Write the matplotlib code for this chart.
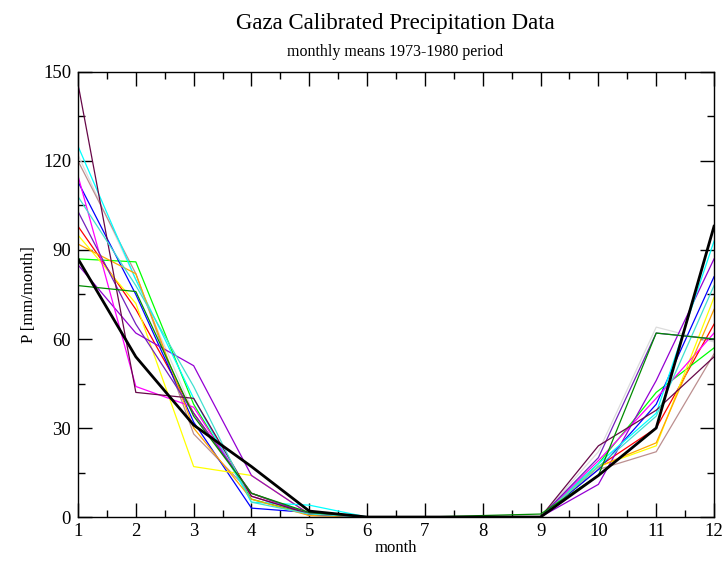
import matplotlib
matplotlib.use("Agg")
import matplotlib.pyplot as plt
from matplotlib.ticker import MultipleLocator

plt.rcParams["font.family"] = ["Liberation Serif", "DejaVu Serif"]

months = list(range(1, 13))

# monthly means per station (mm/month)
p_black = [87, 54, 31, 17, 2, 0, 0, 0, 0, 14, 30, 98]
p_red = [98, 70, 35, 8, 1, 0, 0, 0, 0, 17, 30, 65]
p_green = [87, 86, 38, 6, 1, 0, 0, 0, 0, 18, 42, 57]
p_blue = [113, 75, 32, 3, 1.5, 0, 0, 0, 0, 16, 38, 81]
p_yellow = [95, 72, 17, 14, 1, 0, 0, 0, 0, 17, 24, 74]
p_brown = [120, 82, 28, 8, 0.5, 0, 0, 0, 0, 16, 22, 55]
p_grey = [122, 80, 35, 7, 1, 0, 0, 0, 0, 22, 64, 59]
p_violet = [85, 62, 51, 14, 1, 0, 0, 0, 0, 11, 46, 87]
p_cyan = [125, 80, 40, 5, 4, 0, 0, 0, 0, 18, 35, 93]
p_magenta = [115, 44, 37, 7, 1, 0, 0, 0, 0, 19, 40, 62]
p_orange = [92, 82, 30, 6, 0.5, 0, 0, 0, 0, 17, 25, 70]
p_indigo = [103, 65, 35, 8, 1, 0, 0, 0, 0, 20, 62, 60]
p_maroon = [146, 42, 40, 7, 1, 0, 0, 0, 0, 24, 36, 54]
p_turquoise = [108, 78, 44, 5, 1, 0, 0, 0, 0, 17, 34, 78]
p_green4 = [78, 76, 34, 8, 1.5, 0, 0, 0.5, 1, 14, 62, 60]

# grace default palette
series = [
    (p_grey, "#dcdcdc"),
    (p_brown, "#bc8f8f"),
    (p_red, "#ff0000"),
    (p_green, "#00ff00"),
    (p_blue, "#0000ff"),
    (p_yellow, "#ffff00"),
    (p_violet, "#9400d3"),
    (p_cyan, "#00ffff"),
    (p_magenta, "#ff00ff"),
    (p_orange, "#ffa500"),
    (p_indigo, "#7221bc"),
    (p_maroon, "#670748"),
    (p_turquoise, "#40e0d0"),
    (p_green4, "#008b00"),
]

fig = plt.figure(figsize=(7.23, 5.61), dpi=100)
ax = fig.add_axes([0.1079, 0.0784, 0.8797, 0.7933])

for vals, col in series:
    ax.plot(months, vals, color=col, lw=0.9)
ax.plot(months, p_black, color="black", lw=2.0)

ax.set_xlim(1, 12)
ax.set_ylim(0, 150)
ax.xaxis.set_major_locator(MultipleLocator(1))
ax.xaxis.set_minor_locator(MultipleLocator(0.5))
ax.yaxis.set_major_locator(MultipleLocator(30))
ax.yaxis.set_minor_locator(MultipleLocator(15))
ax.tick_params(which="both", direction="in", top=True, right=True,
               labelsize=13.5)
ax.tick_params(axis="x", pad=4)
ax.tick_params(axis="y", pad=5)
ax.tick_params(which="major", length=10, width=1)
ax.tick_params(which="minor", length=5, width=1)
for s in ax.spines.values():
    s.set_linewidth(1.0)

ax.set_xlabel("month", fontsize=12, labelpad=0)
ax.set_ylabel("P [mm/month]", fontsize=12, labelpad=4)

fig.text(0.547, 0.958, "Gaza Calibrated Precipitation Data", ha="center",
         va="center", fontsize=16.5)
fig.text(0.547, 0.908, "monthly means 1973-1980 period", ha="center",
         va="center", fontsize=11.5)

fig.savefig("out.png", dpi=100)
